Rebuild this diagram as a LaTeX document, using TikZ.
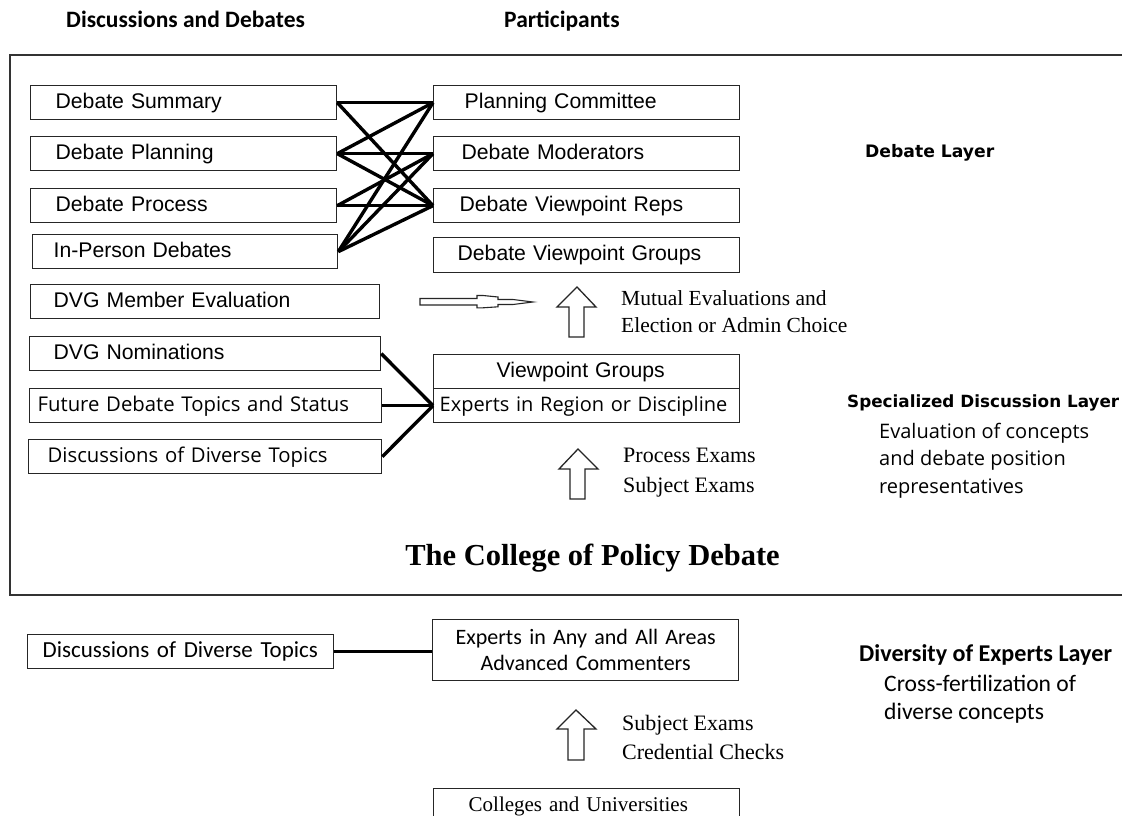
\documentclass[tikz,border=0pt]{standalone}
\usepackage{fontspec}
\setmainfont{Liberation Serif}
\newfontfamily\arialf{Liberation Sans}
\newfontfamily\calf{Carlito}
\newfontfamily\opensf{Open Sans}
\newfontfamily\dejaf{DejaVu Sans}
\newcommand\fsz[2]{\fontsize{#1}{#2}\selectfont}
\tikzset{
  box/.style={draw=black!85, line width=1.3pt, anchor=north west, inner ysep=0pt, minimum height=34pt, align=left, text height=15pt, text depth=4pt},
  arialbox/.style={box, font=\arialf\fsz{21.2}{24}},
  openbox/.style={box, font=\opensf\fsz{20.3}{24}},
  calbox/.style={box, font=\calf\fsz{23}{26}},
  link/.style={line width=3.4pt},
  blockarrow/.style={draw=black!85, line width=1.3pt, fill=white, line join=miter},
  frameline/.style={draw=black!80, line width=1.6pt},
  head/.style={anchor=west, inner sep=0pt, font=\calf\bfseries\fsz{23.5}{26}},
  layer/.style={anchor=west, inner sep=0pt, font=\dejaf\bfseries\fsz{16.8}{20}},
  serifnote/.style={anchor=west, inner sep=0pt, align=left, font=\fsz{21.5}{28}},
}
\begin{document}
\begin{tikzpicture}[x=1pt,y=-1pt]
\useasboundingbox[fill=white] (0,0) rectangle (1122,816);

% headers
\node[head] (h1) at (66,19) {Discussions and Debates};
\node[head] (h2) at (504,21) {Participants};

% frame
\draw[frameline] (1130,55) -- (10,55) -- (10,595) -- (1130,595);

% left column
\node[arialbox, inner xsep=25pt, text width=256pt] (sum)  at (30,85)  {Debate Summary};
\node[arialbox, inner xsep=25pt, text width=256pt] (plan) at (30,136) {Debate Planning};
\node[arialbox, inner xsep=25pt, text width=256pt] (proc) at (30,188) {Debate Process};
\node[arialbox, inner xsep=21pt, text width=263pt] (inp)  at (32,234) {In-Person Debates};
\node[arialbox, inner xsep=23pt, text width=303pt] (eval) at (30,284) {DVG Member Evaluation};
\node[arialbox, inner xsep=24pt, text width=303pt] (nom)  at (29,336) {DVG Nominations};
\node[openbox,  inner xsep=8pt,  text width=336pt] (fut)  at (29,388) {Future Debate Topics and Status};
\node[openbox,  inner xsep=19pt, text width=315pt] (disc) at (28,439) {Discussions of Diverse Topics};

% right column
\node[arialbox, inner xsep=31pt, text width=244pt] (pc)  at (433,85)  {Planning Committee};
\node[arialbox, inner xsep=28pt, text width=250pt] (mod) at (433,136) {Debate Moderators};
\node[arialbox, inner xsep=26pt, text width=254pt] (dvr) at (433,188) {Debate Viewpoint Reps};
\node[arialbox, inner xsep=24pt, text width=258pt, minimum height=35pt] (dvg) at (433,237) {Debate Viewpoint Groups};
\node[arialbox, inner xsep=63pt, text width=180pt] (vg1) at (433,354) {Viewpoint Groups};
\node[openbox, inner xsep=6pt, text width=294pt, font=\opensf\fsz{20}{24}] (vg2) at (433,388) {\mbox{Experts in Region or Discipline}};

% connectors
\foreach \a/\b in {sum/pc, sum/dvr, plan/pc, plan/mod, plan/dvr, proc/mod, proc/dvr, inp/pc, inp/mod, inp/dvr}
  \draw[link] (\a.east) -- (\b.west);
\foreach \a in {nom, fut, disc}
  \draw[link] (\a.east) -- (vg2.west);

% thin arrow right of DVG Member Evaluation
\draw[blockarrow, line width=1.1pt] (420,298.5) -- (477,298.5) -- (477,295.5) -- (483,295.5) -- (498,297) -- (498,299.5) -- (513,299.5) -- (533,302) -- (513,304.5) -- (498,304.5) -- (498,306.8) -- (483,307.8) -- (477,307.8) -- (477,305) -- (420,305) -- cycle;

% block arrows
\draw[blockarrow] (569,337) -- (569,307) -- (557,307) -- (577,287) -- (596,307) -- (584,307) -- (584,337) -- cycle;
\draw[blockarrow] (570,499) -- (570,469) -- (559,469) -- (578,449) -- (598,469) -- (585,469) -- (585,499) -- cycle;
\draw[blockarrow] (568,760) -- (568,729) -- (557,729) -- (576,710) -- (596,729) -- (584,729) -- (584,760) -- cycle;

% notes
\node[serifnote, font=\fsz{21.5}{27}] (n1) at (621,311.5) {Mutual Evaluations and\\Election or Admin Choice};
\node[serifnote, font=\fsz{22}{30}] (n2) at (623,473) {Process Exams\\Subject Exams};
\node[serifnote, font=\fsz{22}{29}] (n3) at (622,737.5) {Subject Exams\\Credential Checks};

% title
\node[inner sep=0pt, font=\bfseries\fsz{30.5}{34}] (title) at (592.5,558) {The College of Policy Debate};

% layer labels
\node[layer, font=\dejaf\bfseries\fsz{17.2}{20}] (l1) at (865,153) {Debate Layer};
\node[layer] (l2) at (847,403) {Specialized Discussion Layer};
\node[anchor=west, inner sep=0pt, align=left, font=\opensf\fsz{20}{27.5}] (l2t) at (879,460.5) {Evaluation of concepts\\and debate position\\representatives};
\node[anchor=west, inner sep=0pt, font=\calf\bfseries\fsz{24.1}{26}] (l3) at (859,655) {Diversity of Experts Layer};
\node[anchor=west, inner sep=0pt, align=left, font=\calf\fsz{23.6}{28}] (l3t) at (884,699) {Cross-fertilization of\\diverse concepts};

% bottom section
\node[calbox, inner xsep=15pt, text width=276pt] (disc2) at (27,634) {Discussions of Diverse Topics};
\node[calbox, minimum height=61pt, inner xsep=8pt, text width=290pt, align=center, font=\calf\fsz{22}{26}, text height=, text depth=] (exp) at (432,619) {Experts in Any and All Areas\\Advanced Commenters};
\draw[link] (disc2.east) -- (disc2.east -| exp.west);
\node[box, minimum height=42pt, inner xsep=35pt, text width=236pt, font=\fsz{21}{24}, text height=14pt, text depth=10pt] (col) at (433,788) {Colleges and Universities};
\end{tikzpicture}
\end{document}
